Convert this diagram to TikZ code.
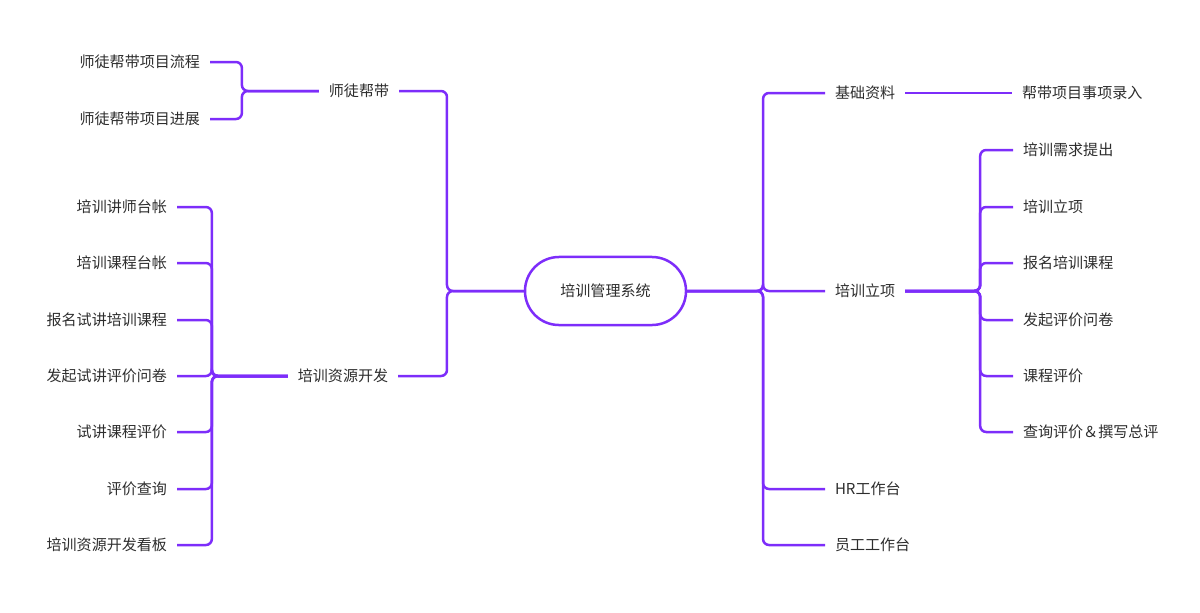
\documentclass[tikz,border=0pt]{standalone}
\usepackage{fontspec}
\setmainfont{Noto Sans CJK SC}
\definecolor{mindline}{RGB}{125,45,250}
\definecolor{mindtext}{RGB}{45,45,45}
\tikzset{
  topic/.style={inner xsep=0.25cm, inner ysep=0.1cm, outer sep=0pt, text=mindtext,
    font=\fontsize{10.7}{12}\selectfont},
  rootbox/.style={topic, draw=mindline, line width=0.0625cm, rounded corners=0.85cm,
    minimum width=4.025cm, minimum height=1.7cm},
  link/.style={draw=mindline, line width=0.0625cm, rounded corners=0.15cm}
}
\begin{document}
\begin{tikzpicture}[x=0.025cm, y=-0.025cm]
\useasboundingbox (0,0) rectangle (1200,612);

% Marking root
\node (root) [rootbox] at (605.5,291) {培训管理系统};

% Marking left topics
\node (mentor) [topic] at (359,91) {师徒帮带};
\node (resdev) [topic] at (343,376) {培训资源开发};

% Marking mentor children
\node (mflow) [topic, anchor=east] at (210,62) {师徒帮带项目流程};
\node (mprog) [topic, anchor=east] at (210,119) {师徒帮带项目进展};

% Marking resource children
\node (rteach) [topic, anchor=east] at (177,207) {培训讲师台帐};
\node (rcourse) [topic, anchor=east] at (177,263) {培训课程台帐};
\node (rsign) [topic, anchor=east] at (177,320) {报名试讲培训课程};
\node (rsurvey) [topic, anchor=east] at (177,376) {发起试讲评价问卷};
\node (reval) [topic, anchor=east] at (177,432) {试讲课程评价};
\node (rquery) [topic, anchor=east] at (177,489) {评价查询};
\node (rboard) [topic, anchor=east] at (177,545) {培训资源开发看板};

% Marking right topics
\node (basic) [topic, anchor=west] at (825,93) {基础资料};
\node (setup) [topic, anchor=west] at (825,291) {培训立项};
\node (hrdesk) [topic, anchor=west] at (825,489) {HR工作台};
\node (staffdesk) [topic, anchor=west] at (825,545) {员工工作台};

% Marking right children
\node (entry) [topic, anchor=west] at (1012,93) {帮带项目事项录入};
\node (sneed) [topic, anchor=west] at (1013,150) {培训需求提出};
\node (sproj) [topic, anchor=west] at (1013,207) {培训立项};
\node (ssign) [topic, anchor=west] at (1013,263) {报名培训课程};
\node (ssurvey) [topic, anchor=west] at (1013,320) {发起评价问卷};
\node (seval) [topic, anchor=west] at (1013,376) {课程评价};
\node (squery) [topic, anchor=west] at (1013,432) {查询评价＆撰写总评};

% Drawing root to left topics
\foreach \n in {mentor,resdev}
  \draw [link] (root.west) -- ++(-78,0) |- (\n.east);

% Drawing mentor to children
\foreach \n in {mflow,mprog}
  \draw [link] (mentor.west) -- ++(-77,0) |- (\n.east);

% Drawing resource to children
\foreach \n in {rteach,rcourse,rsign,rsurvey,reval,rquery,rboard}
  \draw [link] (resdev.west) -- ++(-76,0) |- (\n.east);

% Drawing root to right topics
\foreach \n in {basic,setup,hrdesk,staffdesk}
  \draw [link] (root.east) -- ++(77,0) |- (\n.west);

% Drawing basic to entry
\draw [link] (basic.east) -- (entry.west);

% Drawing setup to children
\foreach \n in {sneed,sproj,ssign,ssurvey,seval,squery}
  \draw [link] (setup.east) -- ++(75,0) |- (\n.west);
\end{tikzpicture}
\end{document}
